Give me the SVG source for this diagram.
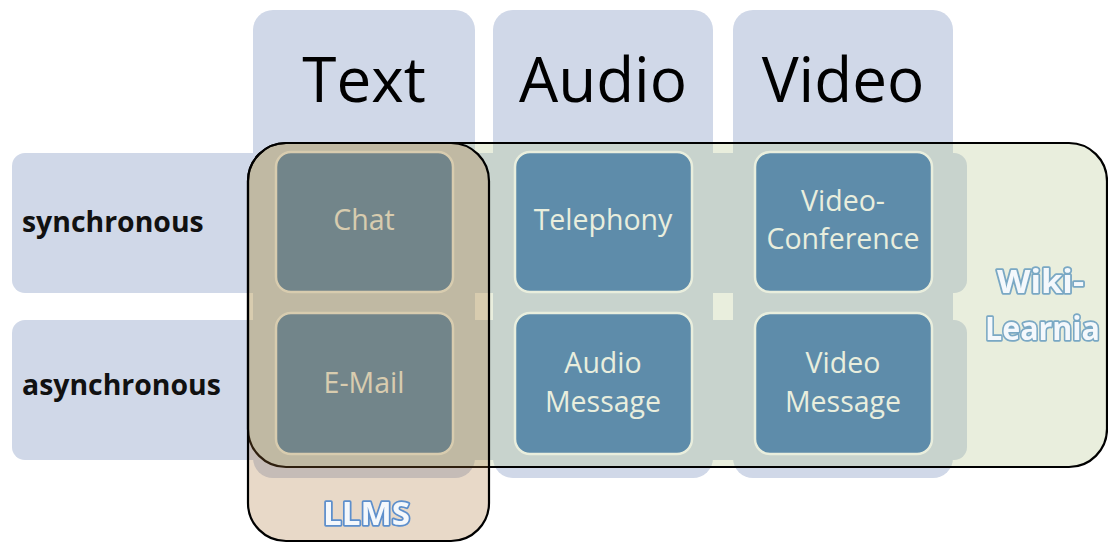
<svg xmlns="http://www.w3.org/2000/svg" width="1108" height="543" viewBox="0 0 1108 543">
<defs>
<filter id="soft" x="-10%" y="-20%" width="120%" height="140%"><feGaussianBlur stdDeviation="0.5"/></filter>
</defs>
<style>
.hdr{fill:#d0d8e8}
.htxt{font-family:"Open Sans","Noto Sans",sans-serif;font-size:62px;fill:#000;text-anchor:middle}
.rtxt{font-family:"Open Sans","Noto Sans",sans-serif;font-size:28.4px;font-weight:bold;fill:#111}
.cell{fill:#3873b7;stroke:#ffffff;stroke-width:2.5}
.ctxt{font-family:"Open Sans","Noto Sans",sans-serif;font-size:28.5px;fill:#ffffff;text-anchor:middle}
.grp{stroke:#000;stroke-width:2.2}
.gtxt{font-family:"Open Sans","Noto Sans",sans-serif;font-size:33px;font-weight:bold;fill:#f4f8fc;stroke-width:3.5;paint-order:stroke;stroke-linejoin:round}
.wk{stroke:#7aa8c4}
.lm{stroke:#5d8fcc}
</style>
<rect width="1108" height="543" fill="#ffffff"/>
<g id="col-text"><rect class="hdr" x="253" y="10" width="222" height="468" rx="20"/><text class="htxt" x="364" y="102">Text</text></g>
<g id="col-audio"><rect class="hdr" x="493" y="10" width="220" height="468" rx="20"/><text class="htxt" x="603" y="102">Audio</text></g>
<g id="col-video"><rect class="hdr" x="733" y="10" width="220" height="468" rx="20"/><text class="htxt" x="843" y="102">Video</text></g>
<g id="row-sync"><rect class="hdr" x="12" y="153" width="955" height="140" rx="13"/><text class="rtxt" x="22" y="232">synchronous</text></g>
<g id="row-async"><rect class="hdr" x="12" y="320" width="955" height="140" rx="13"/><text class="rtxt" x="22" y="395">asynchronous</text></g>
<g id="cell-chat"><rect class="cell" x="276" y="152" width="177" height="140" rx="15"/><text class="ctxt" x="364" y="230">Chat</text></g>
<g id="cell-email"><rect class="cell" x="276" y="313" width="177" height="141" rx="15"/><text class="ctxt" x="364" y="393">E-Mail</text></g>
<g id="cell-telephony"><rect class="cell" x="515" y="152" width="177" height="140" rx="15"/><text class="ctxt" x="603" y="230">Telephony</text></g>
<g id="cell-audiomsg"><rect class="cell" x="515" y="313" width="177" height="141" rx="15"/><text class="ctxt" x="603" y="373">Audio</text><text class="ctxt" x="603" y="412">Message</text></g>
<g id="cell-videoconf"><rect class="cell" x="755" y="152" width="177" height="140" rx="15"/><text class="ctxt" x="843" y="211">Video-</text><text class="ctxt" x="843" y="249">Conference</text></g>
<g id="cell-videomsg"><rect class="cell" x="755" y="313" width="177" height="141" rx="15"/><text class="ctxt" x="843" y="373">Video</text><text class="ctxt" x="843" y="412">Message</text></g>
<g id="wiki-learnia"><rect class="grp" x="248" y="143" width="859" height="324" rx="38" fill="rgb(182,198,142)" fill-opacity="0.3"/>
<text class="gtxt wk" x="997" y="293" textLength="87" lengthAdjust="spacingAndGlyphs" filter="url(#soft)">Wiki-</text>
<text class="gtxt wk" x="985" y="340" textLength="115" lengthAdjust="spacingAndGlyphs" filter="url(#soft)">Learnia</text>
</g>
<g id="llms"><rect class="grp" x="248" y="143" width="241" height="398" rx="38" fill="rgb(170,114,51)" fill-opacity="0.27"/>
<text class="gtxt lm" x="323" y="525" textLength="87" lengthAdjust="spacingAndGlyphs" filter="url(#soft)">LLMS</text>
</g>
</svg>
